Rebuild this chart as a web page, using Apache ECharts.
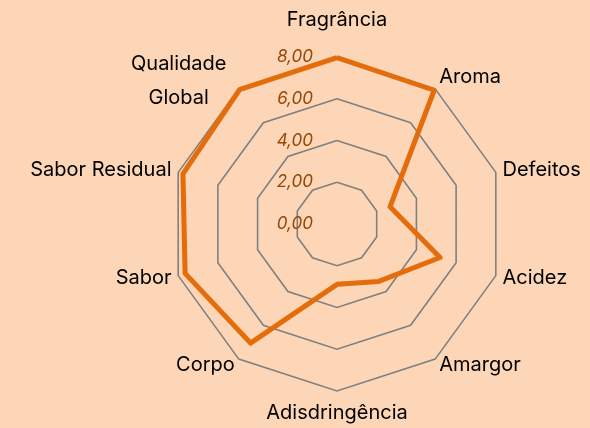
<!DOCTYPE html>
<html lang="pt">
<head>
    <meta charset="UTF-8">
    <title>Radar</title>
    <script src="https://cdn.jsdelivr.net/npm/echarts@6.0.0/dist/echarts.min.js"></script>
    <style>
        html, body { margin: 0; padding: 0; background: #FCD6B7; }
    </style>
</head>
<body>
    <div id="chart" style="width: 590px; height: 428px;"></div>

    <script>
        // atributos na ordem do gráfico (sentido horário a partir do topo)
        const atributos = ['Fragrância', 'Aroma', 'Defeitos', 'Acidez', 'Amargor',
            'Adisdringência', 'Corpo', 'Sabor', 'Sabor Residual', 'Qualidade Global'];
        const notas = [7.97, 7.92, 2.67, 5.19, 3.40, 2.89, 7.05, 7.65, 7.76, 7.95];
        const escalaMin = 0;
        const escalaMax = 8;

        // o radar do echarts gira no sentido anti-horário, então invertemos depois do primeiro
        const ordem = [0].concat(atributos.map((_, i) => i).slice(1).reverse());

        const fonte = 'Inter';
        const base = { fontFamily: fonte, fontSize: 20, color: '#000' };

        let chart = echarts.init(document.getElementById('chart'));

        let option = {
            backgroundColor: '#FCD6B7',
            radar: {
                center: [337, 224],
                radius: 167,
                startAngle: 90,
                shape: 'polygon',
                splitNumber: 4,
                nameGap: 7,
                axisName: {
                    color: '#000',
                    fontFamily: fonte,
                    fontSize: 20,
                    formatter: function (nome) {
                        if (nome === 'Fragrância') return '{top|' + nome + '}';
                        if (nome === 'Aroma') return '{up|' + nome + '}';
                        if (nome === 'Adisdringência') return '{bot|' + nome + '}';
                        if (nome === 'Qualidade Global') return '{qg|Qualidade}\n{qg2|Global}';
                        return '{n|' + nome + '}';
                    },
                    rich: {
                        n: Object.assign({}, base),
                        top: Object.assign({}, base, { padding: [0, 0, 20, 0] }),
                        up: Object.assign({}, base, { padding: [0, 0, 12, 0] }),
                        bot: Object.assign({}, base, { padding: [5, 0, 0, 0] }),
                        qg: Object.assign({}, base, { width: 112, align: 'center', lineHeight: 38 }),
                        qg2: Object.assign({}, base, { width: 112, align: 'center', lineHeight: 38, padding: [0, 0, 8, 0] })
                    }
                },
                axisLine: { show: false },
                axisTick: { show: false },
                splitArea: { show: false },
                splitLine: { lineStyle: { color: '#808080', width: 1.6 } },
                axisLabel: { show: false },
                indicator: ordem.map((i, k) => {
                    let ind = { name: atributos[i], min: escalaMin, max: escalaMax };
                    if (k === 0) {
                        ind.axisLabel = {
                            show: true,
                            margin: 24,
                            fontFamily: fonte,
                            fontStyle: 'italic',
                            fontSize: 17,
                            color: '#974706',
                            formatter: v => v.toFixed(2).replace('.', ',')
                        };
                    }
                    return ind;
                })
            },
            series: [{
                type: 'radar',
                symbol: 'none',
                silent: true,
                lineStyle: { color: '#E46C0A', width: 5 },
                data: [{ value: ordem.map(i => notas[i]), name: 'Notas' }]
            }]
        };

        chart.setOption(option);
    </script>
</body>
</html>
